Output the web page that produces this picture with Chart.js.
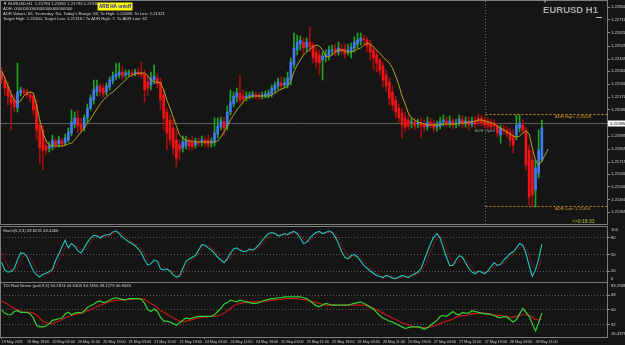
<!DOCTYPE html>
<html>
<head>
<meta charset="utf-8">
<script src="https://cdn.jsdelivr.net/npm/chart.js@4.4.1/dist/chart.umd.min.js"></script>
<style>
  html, body { margin: 0; padding: 0; background: #151515; }
  #wrap { position: relative; width: 625px; height: 345px; overflow: hidden; background: #151515; }
  canvas { position: absolute; left: 0; }
</style>
</head>
<body>
<div id="wrap">
  <canvas id="main" width="625" height="225" style="top:0px"></canvas>
  <canvas id="stoch" width="625" height="56" style="top:226px"></canvas>
  <canvas id="tdi" width="625" height="63" style="top:282px"></canvas>
</div>
<script>
// EURUSD H1, one label every 8 bars
const timeLabels = ['19 May 2021', '19 May 19:00', '20 May 03:00', '20 May 11:00', '20 May 19:00', '21 May 03:00',
  '21 May 11:00', '21 May 19:00', '24 May 03:00', '24 May 11:00', '24 May 19:00', '25 May 03:00', '25 May 11:00',
  '25 May 19:00', '26 May 03:00', '26 May 11:00', '26 May 19:00', '27 May 03:00', '27 May 11:00', '27 May 19:00',
  '28 May 03:00', '28 May 11:00'];
const slotCount = 191; // bars + empty shift area on the right

const priceTicks = [1.22800, 1.22710, 1.22620, 1.22525, 1.22435, 1.22350, 1.22260, 1.22170, 1.22080,
  1.21895, 1.21805, 1.21715, 1.21630, 1.21540, 1.21450, 1.21365];
const priceMin = 1.21281, priceMax = 1.22842;

const opens = [
  1.22345, 1.22289, 1.22247, 1.22184, 1.22149, 1.22093, 1.22198, 1.22212, 1.22205, 1.22184,
  1.22177, 1.22114, 1.21974, 1.21939, 1.21827, 1.21813, 1.21820, 1.21862, 1.21841, 1.21862,
  1.21848, 1.21869, 1.21918, 1.21981, 1.22023, 1.21981, 1.21953, 1.22023, 1.22093, 1.22149,
  1.22205, 1.22247, 1.22233, 1.22205, 1.22240, 1.22282, 1.22310, 1.22324, 1.22345, 1.22324,
  1.22331, 1.22338, 1.22331, 1.22345, 1.22338, 1.22331, 1.22275, 1.22254, 1.22289, 1.22303,
  1.22275, 1.22184, 1.22065, 1.22009, 1.21953, 1.21869, 1.21834, 1.21813, 1.21827, 1.21862,
  1.21855, 1.21834, 1.21855, 1.21855, 1.21869, 1.21869, 1.21848, 1.21855, 1.21911, 1.21960,
  1.21995, 1.21967, 1.22065, 1.22121, 1.22170, 1.22198, 1.22177, 1.22163, 1.22177, 1.22177,
  1.22184, 1.22184, 1.22177, 1.22177, 1.22184, 1.22191, 1.22219, 1.22247, 1.22268, 1.22254,
  1.22254, 1.22289, 1.22394, 1.22499, 1.22541, 1.22555, 1.22520, 1.22555, 1.22534, 1.22485,
  1.22464, 1.22429, 1.22450, 1.22457, 1.22492, 1.22506, 1.22485, 1.22506, 1.22506, 1.22485,
  1.22492, 1.22513, 1.22541, 1.22562, 1.22576, 1.22569, 1.22541, 1.22499, 1.22464, 1.22429,
  1.22387, 1.22324, 1.22275, 1.22205, 1.22149, 1.22093, 1.22058, 1.22023, 1.22009, 1.21988,
  1.21995, 1.21981, 1.21988, 1.21974, 1.21960, 1.21995, 1.21981, 1.21960, 1.21967, 1.21995,
  1.22002, 1.21988, 1.22002, 1.21981, 1.21988, 1.22009, 1.21988, 1.22002, 1.21981, 1.22002,
  1.22023, 1.22023, 1.22009, 1.22002, 1.21995, 1.21988, 1.21967, 1.21904, 1.21946, 1.21939,
  1.21925, 1.21897, 1.21904, 1.21953, 1.21974, 1.21939, 1.21799, 1.21729, 1.21519, 1.21638,
  1.21729];
const closes = [
  1.22289, 1.22233, 1.22177, 1.22128, 1.22100, 1.22205, 1.22219, 1.22205, 1.22184, 1.22163,
  1.22079, 1.21939, 1.21813, 1.21799, 1.21799, 1.21827, 1.21869, 1.21834, 1.21869, 1.21841,
  1.21883, 1.21925, 1.21995, 1.22023, 1.21967, 1.21939, 1.22023, 1.22093, 1.22163, 1.22219,
  1.22247, 1.22205, 1.22191, 1.22247, 1.22289, 1.22317, 1.22331, 1.22345, 1.22317, 1.22338,
  1.22338, 1.22331, 1.22345, 1.22331, 1.22324, 1.22219, 1.22233, 1.22303, 1.22317, 1.22261,
  1.22149, 1.22023, 1.21918, 1.21869, 1.21813, 1.21743, 1.21799, 1.21855, 1.21869, 1.21827,
  1.21820, 1.21862, 1.21848, 1.21869, 1.21848, 1.21834, 1.21862, 1.21918, 1.21967, 1.22002,
  1.21953, 1.22065, 1.22135, 1.22177, 1.22198, 1.22149, 1.22156, 1.22177, 1.22184, 1.22191,
  1.22177, 1.22170, 1.22184, 1.22191, 1.22198, 1.22233, 1.22254, 1.22275, 1.22247, 1.22268,
  1.22303, 1.22415, 1.22513, 1.22555, 1.22569, 1.22513, 1.22555, 1.22520, 1.22443, 1.22415,
  1.22408, 1.22457, 1.22464, 1.22499, 1.22499, 1.22478, 1.22513, 1.22492, 1.22471, 1.22499,
  1.22520, 1.22555, 1.22569, 1.22583, 1.22569, 1.22527, 1.22485, 1.22443, 1.22408, 1.22359,
  1.22289, 1.22247, 1.22163, 1.22114, 1.22065, 1.22023, 1.21974, 1.21960, 1.21967, 1.21995,
  1.21967, 1.21988, 1.21967, 1.21960, 1.21995, 1.21974, 1.21953, 1.21974, 1.21995, 1.22009,
  1.21981, 1.22002, 1.21974, 1.21988, 1.22016, 1.21981, 1.22002, 1.21974, 1.22002, 1.21981,
  1.21995, 1.21988, 1.21974, 1.21967, 1.21960, 1.21967, 1.21918, 1.21953, 1.21932, 1.21911,
  1.21869, 1.21834, 1.21974, 1.21988, 1.21939, 1.21694, 1.21470, 1.21484, 1.21673, 1.21799,
  1.21953];
const highs = [
  1.22373, 1.22317, 1.22275, 1.22219, 1.22184, 1.22408, 1.22240, 1.22233, 1.22226, 1.22205,
  1.22198, 1.22149, 1.22009, 1.21974, 1.21869, 1.21855, 1.21904, 1.21883, 1.21897, 1.21883,
  1.21911, 1.21953, 1.22079, 1.22065, 1.22079, 1.22023, 1.22044, 1.22121, 1.22184, 1.22289,
  1.22289, 1.22268, 1.22261, 1.22268, 1.22310, 1.22345, 1.22408, 1.22408, 1.22387, 1.22359,
  1.22359, 1.22359, 1.22366, 1.22373, 1.22415, 1.22359, 1.22324, 1.22345, 1.22394, 1.22331,
  1.22303, 1.22219, 1.22093, 1.22044, 1.22023, 1.21939, 1.21869, 1.21897, 1.21897, 1.21883,
  1.21897, 1.21883, 1.21883, 1.21897, 1.21890, 1.21904, 1.21883, 1.22023, 1.22023, 1.22030,
  1.22030, 1.22107, 1.22219, 1.22205, 1.22233, 1.22324, 1.22219, 1.22205, 1.22205, 1.22212,
  1.22205, 1.22198, 1.22205, 1.22212, 1.22219, 1.22254, 1.22275, 1.22303, 1.22310, 1.22303,
  1.22345, 1.22443, 1.22618, 1.22604, 1.22597, 1.22583, 1.22583, 1.22660, 1.22555, 1.22520,
  1.22499, 1.22485, 1.22499, 1.22527, 1.22534, 1.22541, 1.22555, 1.22541, 1.22541, 1.22541,
  1.22548, 1.22590, 1.22618, 1.22618, 1.22604, 1.22590, 1.22569, 1.22527, 1.22499, 1.22443,
  1.22415, 1.22359, 1.22303, 1.22247, 1.22177, 1.22121, 1.22093, 1.22065, 1.22044, 1.22023,
  1.22023, 1.22016, 1.22023, 1.22009, 1.22030, 1.22023, 1.22009, 1.22002, 1.22030, 1.22044,
  1.22030, 1.22037, 1.22023, 1.22016, 1.22044, 1.22037, 1.22030, 1.22030, 1.22030, 1.22037,
  1.22051, 1.22044, 1.22030, 1.22023, 1.22016, 1.22009, 1.21988, 1.21974, 1.21974, 1.21967,
  1.21953, 1.21939, 1.22044, 1.22044, 1.22009, 1.21960, 1.21834, 1.21799, 1.21729, 1.21939,
  1.22009];
const lows = [
  1.22261, 1.22184, 1.22114, 1.21939, 1.22065, 1.22065, 1.22177, 1.22184, 1.22163, 1.22135,
  1.22044, 1.21869, 1.21708, 1.21659, 1.21764, 1.21785, 1.21799, 1.21813, 1.21820, 1.21820,
  1.21827, 1.21855, 1.21897, 1.21953, 1.21918, 1.21918, 1.21932, 1.21995, 1.22079, 1.22121,
  1.22177, 1.22177, 1.22170, 1.22184, 1.22219, 1.22261, 1.22289, 1.22303, 1.22296, 1.22303,
  1.22317, 1.22310, 1.22317, 1.22317, 1.22303, 1.22135, 1.22184, 1.22219, 1.22261, 1.22233,
  1.22079, 1.21939, 1.21799, 1.21834, 1.21764, 1.21680, 1.21729, 1.21785, 1.21806, 1.21799,
  1.21799, 1.21813, 1.21827, 1.21827, 1.21820, 1.21813, 1.21820, 1.21827, 1.21883, 1.21939,
  1.21904, 1.21939, 1.22044, 1.22100, 1.22135, 1.22128, 1.22128, 1.22142, 1.22156, 1.22163,
  1.22156, 1.22149, 1.22156, 1.22163, 1.22163, 1.22170, 1.22198, 1.22219, 1.22219, 1.22233,
  1.22233, 1.22254, 1.22373, 1.22464, 1.22499, 1.22464, 1.22485, 1.22485, 1.22408, 1.22373,
  1.22324, 1.22289, 1.22415, 1.22429, 1.22464, 1.22457, 1.22464, 1.22471, 1.22443, 1.22464,
  1.22443, 1.22485, 1.22513, 1.22534, 1.22541, 1.22485, 1.22429, 1.22359, 1.22345, 1.22324,
  1.22240, 1.22205, 1.22114, 1.22079, 1.22023, 1.21995, 1.21883, 1.21925, 1.21939, 1.21953,
  1.21939, 1.21953, 1.21883, 1.21932, 1.21939, 1.21953, 1.21925, 1.21932, 1.21946, 1.21967,
  1.21960, 1.21960, 1.21946, 1.21953, 1.21967, 1.21953, 1.21960, 1.21939, 1.21960, 1.21953,
  1.21967, 1.21967, 1.21953, 1.21946, 1.21939, 1.21939, 1.21890, 1.21848, 1.21911, 1.21890,
  1.21820, 1.21778, 1.21869, 1.21925, 1.21911, 1.21659, 1.21414, 1.21400, 1.21400, 1.21603,
  1.21715];
const maLine = [
  1.22352, 1.22303, 1.22247, 1.22191, 1.22149, 1.22128, 1.22142, 1.22177, 1.22198, 1.22205,
  1.22198, 1.22114, 1.22009, 1.21918, 1.21862, 1.21834, 1.21827, 1.21827, 1.21827, 1.21827,
  1.21834, 1.21841, 1.21848, 1.21869, 1.21897, 1.21925, 1.21953, 1.21988, 1.22016, 1.22051,
  1.22086, 1.22121, 1.22149, 1.22170, 1.22191, 1.22205, 1.22226, 1.22247, 1.22268, 1.22289,
  1.22310, 1.22324, 1.22331, 1.22338, 1.22338, 1.22338, 1.22317, 1.22289, 1.22275, 1.22275,
  1.22268, 1.22219, 1.22149, 1.22093, 1.22030, 1.21967, 1.21904, 1.21883, 1.21869, 1.21862,
  1.21862, 1.21855, 1.21855, 1.21855, 1.21855, 1.21855, 1.21855, 1.21855, 1.21862, 1.21890,
  1.21925, 1.21967, 1.22009, 1.22044, 1.22079, 1.22107, 1.22135, 1.22163, 1.22170, 1.22177,
  1.22177, 1.22177, 1.22177, 1.22177, 1.22177, 1.22184, 1.22198, 1.22212, 1.22226, 1.22233,
  1.22247, 1.22282, 1.22345, 1.22394, 1.22429, 1.22464, 1.22485, 1.22506, 1.22520, 1.22534,
  1.22527, 1.22499, 1.22457, 1.22450, 1.22464, 1.22485, 1.22499, 1.22499, 1.22492, 1.22485,
  1.22485, 1.22492, 1.22506, 1.22513, 1.22534, 1.22548, 1.22541, 1.22520, 1.22499, 1.22478,
  1.22450, 1.22429, 1.22408, 1.22373, 1.22317, 1.22254, 1.22177, 1.22121, 1.22058, 1.22023,
  1.22009, 1.21995, 1.21988, 1.21981, 1.21974, 1.21974, 1.21974, 1.21974, 1.21974, 1.21981,
  1.21981, 1.21981, 1.21981, 1.21981, 1.21988, 1.21988, 1.21988, 1.21995, 1.21995, 1.22002,
  1.22009, 1.22009, 1.22002, 1.21995, 1.21988, 1.21981, 1.21967, 1.21953, 1.21939, 1.21925,
  1.21911, 1.21897, 1.21890, 1.21897, 1.21918, 1.21932, 1.21911, 1.21813, 1.21729, 1.21694,
  1.21722, 1.21764, 1.21806];

const lastPrice = 1.21985;
const adrHigh = 1.22049, adrLow = 1.21404, adrOpen = 1.21930;
const dayStartBar = 152;

const stochMain = [
  36, 22, 18, 19, 25, 40, 53, 52, 46, 33, 20, 13, 9, 14, 16, 19, 23, 39, 51, 64,
  76, 62, 70, 65, 57, 53, 62, 72, 80, 85, 84, 80, 84, 86, 86, 91, 93, 88, 82, 77,
  73, 70, 66, 60, 53, 40, 31, 33, 40, 38, 24, 22, 24, 20, 13, 9, 11, 24, 37, 42,
  45, 48, 58, 68, 67, 62, 58, 52, 45, 40, 35, 42, 52, 60, 62, 58, 55, 56, 60, 58,
  62, 68, 75, 82, 88, 90, 88, 84, 85, 88, 86, 90, 92, 88, 80, 70, 72, 80, 86, 90,
  92, 88, 90, 93, 90, 82, 70, 55, 45, 42, 48, 50, 45, 38, 30, 25, 20, 16, 12, 10,
  8, 12, 10, 7, 6, 9, 12, 10, 8, 12, 15, 18, 25, 40, 55, 70, 82, 88, 80, 62,
  45, 30, 30, 40, 48, 45, 35, 25, 18, 15, 20, 18, 15, 20, 28, 35, 30, 32, 40, 45,
  52, 55, 62, 70, 67, 52, 30, 10, 22, 42, 69];
const stochSignal = [
  52, 40, 28, 20, 20, 27, 39, 48, 50, 44, 33, 22, 14, 12, 13, 16, 19, 27, 38, 51,
  64, 67, 69, 66, 64, 58, 57, 62, 71, 79, 83, 83, 83, 83, 85, 88, 90, 91, 88, 82,
  77, 73, 70, 66, 60, 51, 41, 35, 35, 37, 34, 28, 23, 22, 19, 14, 11, 15, 24, 34,
  41, 45, 50, 58, 64, 66, 62, 57, 52, 46, 40, 39, 43, 51, 58, 60, 58, 56, 57, 58,
  60, 63, 68, 75, 82, 87, 89, 87, 86, 86, 86, 88, 89, 90, 87, 79, 74, 74, 79, 85,
  89, 90, 90, 90, 92, 88, 81, 69, 57, 47, 45, 47, 48, 44, 38, 31, 25, 20, 16, 13,
  10, 10, 10, 10, 8, 7, 9, 10, 10, 10, 12, 15, 19, 28, 40, 55, 69, 80, 83, 77,
  62, 46, 35, 33, 39, 44, 43, 36, 26, 19, 18, 18, 18, 18, 21, 28, 31, 32, 34, 39,
  46, 51, 56, 62, 66, 63, 50, 31, 21, 25, 43];
const stochLevels = [80, 50, 20];

const tdiGreen = [
  50, 46, 44, 44, 48, 49, 47, 47, 47, 45, 40, 31, 29, 29, 30, 33, 37, 38, 39, 40,
  45, 47, 44, 46, 47, 46, 49, 53, 55, 57, 60, 61, 59, 60, 62, 64, 65, 64, 63, 62,
  64, 64, 64, 64, 63, 58, 50, 48, 51, 48, 41, 36, 36, 35, 33, 31, 34, 37, 40, 39,
  40, 41, 42, 42, 42, 42, 42, 44, 48, 52, 57, 59, 62, 61, 60, 62, 61, 60, 59, 58,
  58, 59, 61, 62, 63, 64, 64, 65, 65, 66, 66, 66, 66, 66, 66, 65, 64, 61, 58, 55,
  54, 56, 58, 57, 56, 56, 56, 56, 56, 56, 57, 58, 59, 60, 58, 56, 53, 51, 47, 43,
  40, 38, 36, 35, 33, 31, 29, 27, 28, 29, 29, 29, 28, 26, 28, 31, 34, 37, 42, 43,
  42, 45, 48, 45, 44, 47, 46, 46, 49, 48, 47, 46, 45, 45, 44, 43, 41, 40, 42, 41,
  38, 35, 38, 45, 52, 47, 42, 33, 24, 34, 46];
const tdiRed = [
  61, 59, 57, 54, 52, 50, 48, 47, 47, 47, 46, 44, 40, 36, 34, 33, 33, 35, 36, 38,
  40, 42, 43, 44, 45, 46, 47, 49, 50, 52, 54, 56, 57, 59, 60, 61, 62, 62, 62, 63,
  63, 63, 64, 64, 64, 63, 60, 58, 56, 53, 49, 47, 45, 42, 40, 38, 36, 35, 36, 37,
  38, 39, 40, 41, 41, 42, 42, 42, 43, 44, 46, 49, 52, 55, 57, 58, 59, 59, 60, 60,
  60, 60, 60, 61, 61, 62, 62, 63, 63, 64, 64, 64, 64, 64, 63, 63, 62, 61, 60, 59,
  58, 57, 56, 56, 56, 56, 56, 56, 56, 56, 56, 56, 56, 56, 56, 55, 54, 52, 50, 48,
  46, 44, 42, 40, 38, 36, 34, 33, 31, 30, 29, 29, 28, 28, 28, 29, 30, 31, 33, 35,
  36, 37, 39, 41, 42, 43, 43, 44, 45, 45, 46, 46, 46, 45, 45, 44, 43, 43, 42, 42,
  41, 41, 42, 43, 44, 44, 43, 41, 38, 38, 39];
const tdiLevels = [68, 50, 32];
const tdiMax = 83.2588, tdiMin = 16.4379;

// ---- look ----
const BG = '#151515';
const FRAME = '#7c7c7c';
const TXT = '#cfcfcf';
const FAM = '"Liberation Sans", Arial, sans-serif';
const SMALL = { family: FAM, size: 4.2 };
const small = '4.2px ' + FAM;

const slots = Array.from({ length: slotCount }, (_, i) => i);

function txt(ctx, s, x, y, color, font, align) {
  ctx.fillStyle = color;
  ctx.font = font;
  ctx.textAlign = align || 'left';
  ctx.textBaseline = 'middle';
  ctx.fillText(s, x, y);
}

const panelFrame = {
  id: 'panelFrame',
  beforeDraw(chart) {
    const { ctx, width, height } = chart;
    ctx.save();
    ctx.fillStyle = BG;
    ctx.fillRect(0, 0, width, height);
    ctx.restore();
  },
  afterDraw(chart) {
    const { ctx, chartArea: a } = chart;
    ctx.save();
    ctx.strokeStyle = FRAME;
    ctx.lineWidth = 1;
    ctx.strokeRect(a.left + 0.5, a.top - 0.5, a.right - a.left, a.bottom - a.top + 1);
    ctx.restore();
  }
};

function hiddenX() {
  return { type: 'category', offset: true, display: false };
}

function rightAxis(extra) {
  return Object.assign({
    position: 'right',
    afterFit: s => { s.width = 18; s.paddingTop = 0; s.paddingBottom = 0; },
    border: { display: false },
    grid: { drawOnChartArea: false, tickLength: 3, tickColor: '#8a8a8a' },
    ticks: { color: TXT, font: SMALL, padding: 1, autoSkip: false }
  }, extra);
}

const common = {
  responsive: false,
  animation: false,
  devicePixelRatio: 1,
  events: [],
  plugins: { legend: { display: false }, tooltip: { enabled: false }, title: { display: false } }
};

// ---- main price panel ----
const mainOverlay = {
  id: 'mainOverlay',
  beforeDatasetsDraw(chart) {
    const { ctx, chartArea: a, scales: { x, y } } = chart;
    ctx.save();
    ctx.lineWidth = 1;
    const py = Math.round(y.getPixelForValue(lastPrice)) + 0.5;
    ctx.strokeStyle = '#5e5e5e';
    ctx.beginPath(); ctx.moveTo(a.left, py); ctx.lineTo(a.right, py); ctx.stroke();

    const dx = Math.round(x.getPixelForValue(dayStartBar)) + 0.5;
    ctx.setLineDash([1, 2]);
    ctx.strokeStyle = '#6e6e6e';
    ctx.beginPath(); ctx.moveTo(dx, a.top); ctx.lineTo(dx, a.bottom); ctx.stroke();

    ctx.setLineDash([2, 2]);
    ctx.strokeStyle = '#c8901e';
    [adrHigh, adrLow].forEach(v => {
      const yy = Math.round(y.getPixelForValue(v)) + 0.5;
      ctx.beginPath(); ctx.moveTo(dx, yy); ctx.lineTo(a.right, yy); ctx.stroke();
    });
    ctx.restore();
  },
  afterDraw(chart) {
    const { ctx, chartArea: a, scales: { x, y } } = chart;
    ctx.save();
    // header lines
    txt(ctx, '\u25BC EURUSD,H1  1.21794 1.21962 1.21793 1.21930', 3, 4, TXT, small);
    txt(ctx, 'ADR: 0000000000000000000000000', 3, 9, TXT, small);
    txt(ctx, "ADR Values: 66, Yesterday: No, Today's Range: 68, To High: 1.22088, To Low: 1.21321", 3, 14, TXT, small);
    txt(ctx, 'Target High: 1.22000, Target Low: 1.21316 / To ADR High: 7, To ADR Low: 62', 3, 18.5, TXT, small);

    // button
    ctx.fillStyle = '#ffff00';
    ctx.fillRect(97.5, 2.5, 35, 8);
    txt(ctx, 'ARB HA on/off', 115, 6.6, '#1010c8', 'bold 4.6px ' + FAM, 'center');

    // symbol
    txt(ctx, 'EURUSD H1', 598, 10.5, '#a8a8a8', 'bold 9.5px ' + FAM, 'right');
    ctx.strokeStyle = '#bdbdbd';
    ctx.lineWidth = 1;
    ctx.beginPath(); ctx.moveTo(596, 17.5); ctx.lineTo(602, 17.5); ctx.stroke();

    // shift marker
    const sx = x.getPixelForValue(171);
    ctx.fillStyle = '#8a8a8a';
    ctx.beginPath(); ctx.moveTo(sx - 2, 0); ctx.lineTo(sx + 2, 0); ctx.lineTo(sx, 3); ctx.closePath(); ctx.fill();

    // ADR labels
    const dx = x.getPixelForValue(dayStartBar);
    const ah = y.getPixelForValue(adrHigh), al = y.getPixelForValue(adrLow);
    txt(ctx, 'ADR High: ' + adrHigh.toFixed(5), 555, ah + 2.6, '#d29a22', small);
    txt(ctx, 'ADR Low: ' + adrLow.toFixed(5), 555, al + 2.6, '#d29a22', small);
    txt(ctx, 'ADR Open', dx - 10, y.getPixelForValue(adrOpen), '#7c9c9c', small);

    // timer
    txt(ctx, '>>0:18:33', 572, 221.5, '#a6cc2e', '5px ' + FAM);

    // current price box on axis
    const py = Math.round(y.getPixelForValue(lastPrice));
    ctx.fillStyle = '#ffffff';
    ctx.fillRect(a.right + 1, py - 2.5, 17, 6);
    txt(ctx, lastPrice.toFixed(5), a.right + 3, py + 0.5, '#000000', small);
    ctx.restore();
  }
};

const bull = i => closes[i] >= opens[i];

new Chart(document.getElementById('main'), {
  type: 'bar',
  data: {
    labels: slots,
    datasets: [
      {
        type: 'line', data: maLine, borderColor: '#aaa21e', borderWidth: 1,
        pointRadius: 0, order: 0
      },
      {
        data: opens.map((o, i) => [o, closes[i]]),
        backgroundColor: c => bull(c.dataIndex) ? '#3f7cf4' : '#f01414',
        barThickness: 2, grouped: false, borderWidth: 0, order: 1
      },
      {
        data: lows.map((l, i) => [l, highs[i]]),
        backgroundColor: c => bull(c.dataIndex) ? '#22a322' : '#a01010',
        barThickness: 1, grouped: false, borderWidth: 0, order: 2
      }
    ]
  },
  options: Object.assign({}, common, {
    layout: { padding: { top: 1, bottom: 1, left: 0, right: 0 } },
    scales: {
      x: hiddenX(),
      y: rightAxis({
        min: priceMin, max: priceMax,
        afterBuildTicks: s => { s.ticks = priceTicks.map(v => ({ value: v })); },
        ticks: { color: TXT, font: SMALL, padding: 1, autoSkip: false, callback: v => v.toFixed(5) }
      })
    }
  }),
  plugins: [panelFrame, mainOverlay]
});

// ---- oscillator panels ----
function oscLabels(title, top, bottom, titleDy) {
  return {
    id: 'oscLabels',
    afterDraw(chart) {
      const { ctx, chartArea: a } = chart;
      ctx.save();
      txt(ctx, title, 3, a.top + titleDy, TXT, small);
      txt(ctx, top, a.right + 4, a.top + 3, TXT, small);
      txt(ctx, bottom, a.right + 4, a.bottom - 3, TXT, small);
      ctx.restore();
    }
  };
}

function levelAxis(min, max, levels) {
  return rightAxis({
    min: min, max: max,
    afterBuildTicks: s => { s.ticks = levels.map(v => ({ value: v })); },
    border: { display: false, dash: [1, 2] },
    grid: { drawOnChartArea: true, color: '#5c5c5c', tickLength: 3, tickColor: '#8a8a8a' },
    ticks: { color: TXT, font: SMALL, padding: 1, autoSkip: false, callback: v => String(v) }
  });
}

new Chart(document.getElementById('stoch'), {
  type: 'line',
  data: {
    labels: slots,
    datasets: [
      { data: stochMain, borderColor: '#22c4c0', borderWidth: 1.1, pointRadius: 0 },
      { data: stochSignal, borderColor: '#e01c1c', borderWidth: 1, borderDash: [1, 1.5], pointRadius: 0 }
    ]
  },
  options: Object.assign({}, common, {
    layout: { padding: { top: 1, bottom: 0, left: 0, right: 0 } },
    scales: { x: hiddenX(), y: levelAxis(0, 100, stochLevels) }
  }),
  plugins: [panelFrame, oscLabels('Stoch(5,3,3) 69.8231 43.4466', '100', '0', 4)]
});

new Chart(document.getElementById('tdi'), {
  type: 'line',
  data: {
    labels: slots,
    datasets: [
      { data: tdiGreen, borderColor: '#34d034', borderWidth: 1.2, pointRadius: 0 },
      { data: tdiRed, borderColor: '#c01818', borderWidth: 1.2, pointRadius: 0 }
    ]
  },
  options: Object.assign({}, common, {
    layout: { padding: { top: 1, bottom: 0, left: 0, right: 0 } },
    scales: {
      x: {
        type: 'category', offset: true, position: 'bottom',
        afterFit: s => { s.height = 8; s.paddingLeft = 0; s.paddingRight = 0; },
        border: { display: false },
        grid: {
          drawOnChartArea: false, offset: false, tickLength: 2,
          tickColor: c => c.index % 8 === 0 ? '#8a8a8a' : 'transparent'
        },
        ticks: {
          autoSkip: false, maxRotation: 0, minRotation: 0, align: 'start', padding: 0.5,
          color: TXT, font: { family: FAM, size: 3.7 },
          callback: (v, i) => i % 8 === 0 ? timeLabels[i / 8] : null
        }
      },
      y: levelAxis(tdiMin, tdiMax, tdiLevels)
    }
  }),
  plugins: [panelFrame, oscLabels('TDI Red Green (pa6,9,5) 54.2874 44.5303 34.7450 49.1279 40.8469',
    tdiMax.toFixed(4), tdiMin.toFixed(4), 3)]
});
</script>
</body>
</html>
